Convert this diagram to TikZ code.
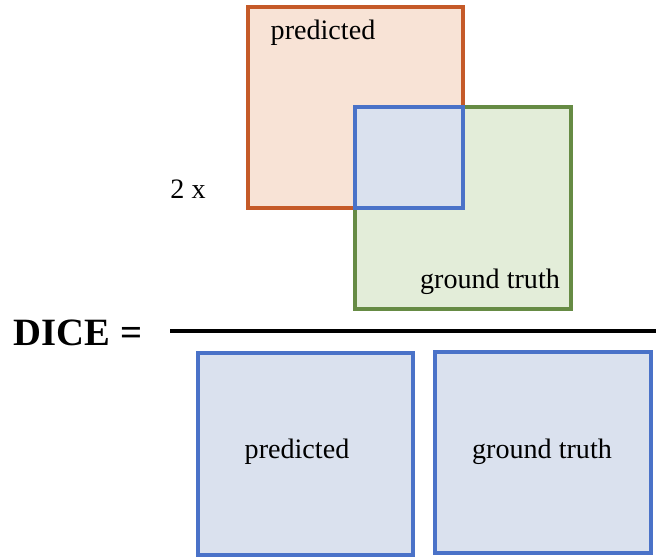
\documentclass[tikz,border=0pt]{standalone}
\usepackage{fontspec}
\setmainfont{Liberation Serif}
\definecolor{predline}{HTML}{C55A28}
\definecolor{predfill}{HTML}{F8E3D6}
\definecolor{gtline}{HTML}{668B44}
\definecolor{gtfill}{HTML}{E3EDD9}
\definecolor{inline}{HTML}{4A72C8}
\definecolor{infill}{HTML}{DAE1EE}
\tikzset{
  lbl/.style={font=\fontsize{16}{19}\selectfont,inner sep=0pt},
  box/.style={line width=1.8pt},
}
\begin{document}
\begin{tikzpicture}[x=0.02cm,y=-0.02cm]
\useasboundingbox (0,0) rectangle (656,559);

\begin{scope}
\draw[box,draw=predline,fill=predfill] (248,7) rectangle (463,208);
\draw[box,draw=gtline,fill=gtfill] (355,107) rectangle (571,309);
\draw[box,draw=inline,fill=infill] (355,107) rectangle (463,208);
\node[lbl] (toppred) at (323,33) {predicted};
\node[lbl] (topgt) at (490,282) {ground truth};
\node[lbl] (twox) at (188,189) {2 x};
\end{scope}

\node[font=\fontsize{22}{26}\selectfont\bfseries,inner sep=0pt] (dice) at (78,333) {DICE =};
\coordinate (barl) at (170,331);
\coordinate (barr) at (656,331);
\draw[line width=2.3pt] (barl) -- (barr);

\begin{scope}
\draw[box,draw=inline,fill=infill] (198,353) rectangle (413,555);
\draw[box,draw=inline,fill=infill] (435,352) rectangle (651,553);
\node[lbl] (botpred) at (297,452) {predicted};
\node[lbl] (botgt) at (542,452) {ground truth};
\end{scope}

\end{tikzpicture}
\end{document}
